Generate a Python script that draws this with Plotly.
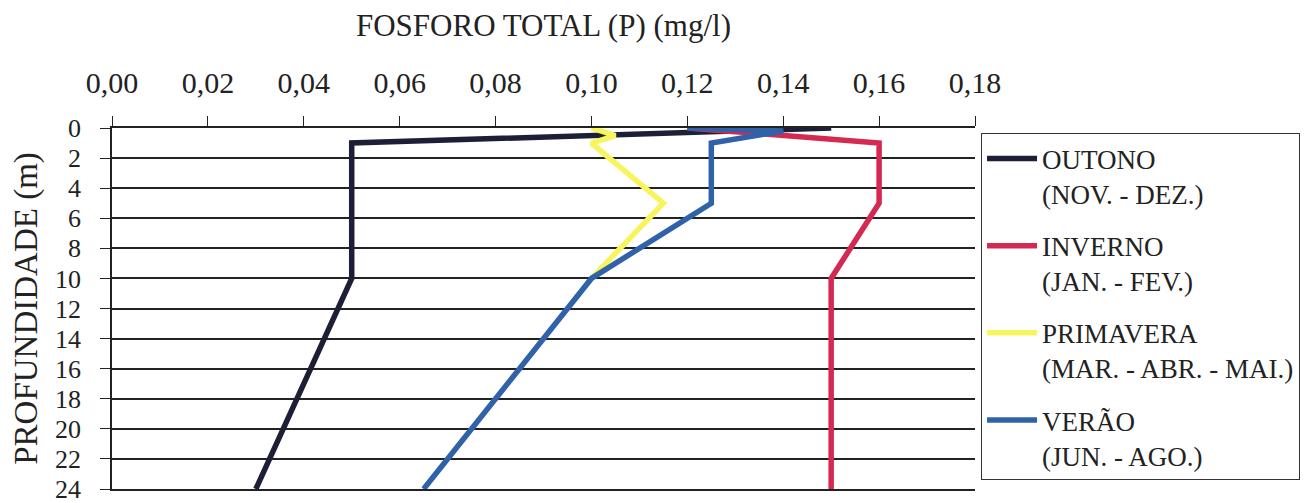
import plotly.graph_objects as go

# profundidade (m) e fósforo total (mg/l) por estação
outono_prof = [0, 1, 10, 24]
outono_p = [0.150, 0.050, 0.050, 0.030]

inverno_prof = [0, 1, 5, 10, 24]
inverno_p = [0.120, 0.160, 0.160, 0.150, 0.150]

primavera_prof = [0, 0.5, 1, 5, 10]
primavera_p = [0.100, 0.105, 0.100, 0.115, 0.100]

verao_prof = [0, 0.2, 1, 5, 10, 24]
verao_p = [0.120, 0.140, 0.125, 0.125, 0.100, 0.065]

nomes = [
    "OUTONO<br>(NOV. - DEZ.)",
    "INVERNO<br>(JAN. - FEV.)",
    "PRIMAVERA<br>(MAR. - ABR. - MAI.)",
    "VERÃO<br>(JUN. - AGO.)",
]
cores = ["#1c1f35", "#d42a52", "#f7f55e", "#2f62a8"]

series = [
    (outono_p, outono_prof),
    (inverno_p, inverno_prof),
    (primavera_p, primavera_prof),
    (verao_p, verao_prof),
]

fig = go.Figure()
for i, (p, prof) in enumerate(series):
    fig.add_trace(
        go.Scatter(
            x=p, y=prof, mode="lines", name=nomes[i], legendgroup=str(i),
            line=dict(color=cores[i], width=5.5),
        )
    )

serif = "Liberation Serif, Times New Roman, serif"
# a página tem margem de 8 px no body, por isso a figura é 8 px menor
fig.update_layout(
    width=1301,
    height=495,
    margin=dict(l=104, r=334, t=120, b=14, autoexpand=False),
    paper_bgcolor="white",
    plot_bgcolor="white",
    separators=",.",
    font=dict(family=serif, color="#222222"),
    showlegend=True,
    legend=dict(
        x=1.007, y=0.985, xanchor="left", yanchor="top",
        bordercolor="#333333", borderwidth=1,
        font=dict(family=serif, size=27, color="#222222"),
        valign="top", tracegroupgap=14, itemwidth=50,
        maxheight=480,
    ),
    xaxis=dict(
        side="top", range=[0, 0.18], dtick=0.02, tickformat=".2f",
        showgrid=False, zeroline=False,
        showline=True, linecolor="#222222", linewidth=1.5, mirror=True,
        ticks="outside", ticklen=10, tickcolor="#222222",
        ticklabelstandoff=11,
        tickfont=dict(family=serif, size=30),
        title=dict(text="FOSFORO TOTAL (P) (mg/l)", font=dict(family=serif, size=31), standoff=35),
        automargin=False,
    ),
    yaxis=dict(
        range=[24, 0], dtick=2, autorange=False,
        showgrid=True, gridcolor="#222222", gridwidth=1.5, zeroline=False,
        showline=True, linecolor="#222222", linewidth=1.5,
        ticks="outside", ticklen=10, tickcolor="#222222",
        ticklabelstandoff=14, ticklabeloverflow="allow",
        tickfont=dict(family=serif, size=26),
        title=dict(text="PROFUNDIDADE (m)", font=dict(family=serif, size=33), standoff=19),
        automargin=False,
    ),
)

fig.write_html("out.html")
